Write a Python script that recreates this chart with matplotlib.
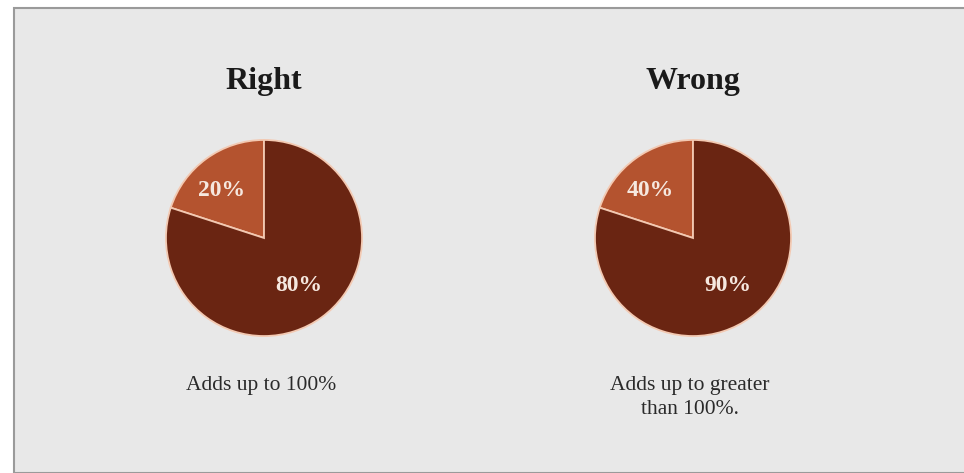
import matplotlib
matplotlib.use("Agg")
import matplotlib.pyplot as plt
from matplotlib.patches import Rectangle

# data
titles = ["Right", "Wrong"]
shares = [20, 80]                      # both pies are drawn with the same split
pie_labels = [["20%", "80%"], ["40%", "90%"]]
captions = ["Adds up to 100%", "Adds up to greater\nthan 100%."]
centers_px = [264, 693]

slice_colors = ["#b4532f", "#6a2512"]
panel_color = "#e8e8e8"
serif = ["Liberation Serif", "DejaVu Serif"]

W, H = 964, 473
fig = plt.figure(figsize=(W / 100, H / 100), dpi=100)
fig.patch.set_facecolor("white")

# grey panel with a thin border on left/top
fig.patches.append(Rectangle((14 / W, 0), 1, (H - 8) / H, transform=fig.transFigure,
                             facecolor=panel_color, edgecolor="#9a9a9a", linewidth=1.5,
                             zorder=-1))

r_px = 100
cy_px = 238
for i, cx in enumerate(centers_px):
    ax = fig.add_axes([(cx - r_px) / W, (H - cy_px - r_px) / H, 2 * r_px / W, 2 * r_px / H])
    ax.patch.set_visible(False)
    wedges, texts = ax.pie(shares, colors=slice_colors, startangle=90, counterclock=True,
                           radius=1, labels=pie_labels[i], labeldistance=0.6,
                           wedgeprops=dict(edgecolor="#f3c9b2", linewidth=1.3),
                           textprops=dict(color="#f6e8df", fontsize=17, fontweight="bold",
                                          family=serif, ha="center", va="center"))
    texts[0].set_x(texts[0].get_position()[0] - 0.08)
    ax.set_xlim(-1.02, 1.02)
    ax.set_ylim(-1.02, 1.02)
    ax.set_aspect("equal")
    ax.axis("off")

    fig.text(cx / W, 1 - 82 / H, titles[i], ha="center", va="center", fontsize=23,
             fontweight="bold", family=serif, color="#1a1a1a")
    fig.text((cx - 3) / W, 1 - (385 + 12.5 * i) / H, captions[i], ha="center", va="center",
             fontsize=15.5, family=serif, color="#2a2a2a", linespacing=1.35)

fig.savefig("out.png", dpi=100, facecolor=fig.get_facecolor())
